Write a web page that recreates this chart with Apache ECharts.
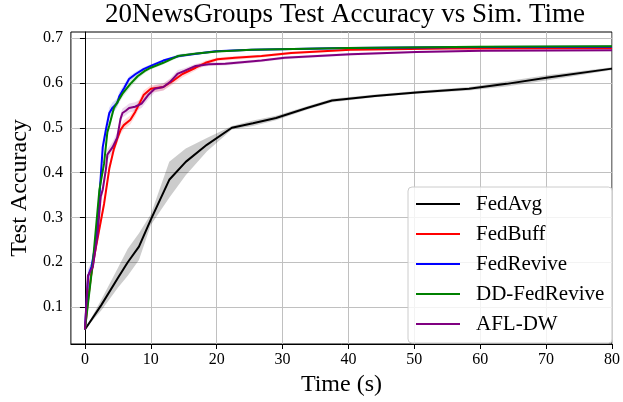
<!DOCTYPE html>
<html>
<head>
<meta charset="utf-8">
<script src="https://cdn.jsdelivr.net/npm/echarts@6/dist/echarts.min.js"></script>
<style>
  html, body { margin: 0; padding: 0; background: #fff; }
  #chart { width: 623px; height: 402px; }
</style>
</head>
<body>
<div id="chart"></div>
<script>
// Tick positions
const xTicks = [0, 10, 20, 30, 40, 50, 60, 70, 80];
const yTicks = [0.1, 0.2, 0.3, 0.4, 0.5, 0.6, 0.7];

// FedAvg: mean accuracy and spread over runs
const fedAvgT = [0, 2.5, 5, 6.5, 8.2, 10, 12.8, 15.3, 18.5, 22.3, 25.5, 29, 33.7, 37.5, 44, 50.3, 58.3, 64, 70.3, 80];
const fedAvgY = [0.05, 0.105, 0.165, 0.2, 0.235, 0.295, 0.384, 0.424, 0.462, 0.5, 0.51, 0.522, 0.544, 0.561, 0.571, 0.579, 0.587, 0.598, 0.612, 0.632];
const fedAvgS = [0, 0.012, 0.022, 0.03, 0.03, 0.012, 0.04, 0.03, 0.015, 0.004, 0.006, 0.005, 0.004, 0.004, 0.003, 0.003, 0.004, 0.006, 0.006, 0.003];

// FedBuff
const fedBuffT = [0, 0.5, 0.95, 1.45, 2.2, 2.9, 3.7, 4.4, 4.9, 5.4, 5.9, 6.9, 7.65, 8.3, 8.9, 10, 11.9, 13.4, 14.8, 16.8, 18.3, 20.1, 22.8, 26.8, 31.3, 40.3, 55.2, 80];
const fedBuffY = [0.05, 0.12, 0.172, 0.216, 0.275, 0.33, 0.409, 0.453, 0.475, 0.495, 0.506, 0.518, 0.536, 0.555, 0.573, 0.587, 0.591, 0.605, 0.62, 0.634, 0.645, 0.653, 0.656, 0.66, 0.667, 0.674, 0.677, 0.678];
const fedBuffS = [0, 0.01, 0.012, 0.012, 0.01, 0.01, 0.01, 0.01, 0.01, 0.01, 0.01, 0.01, 0.01, 0.01, 0.01, 0.008, 0.008, 0.008, 0.008, 0.006, 0.005, 0.004, 0.004, 0.003, 0.003, 0.002, 0.002, 0.002];

// FedRevive
const fedReviveT = [0, 0.5, 1.0, 1.7, 2.2, 2.7, 3.2, 3.7, 4.2, 4.9, 5.2, 6.0, 6.7, 7.7, 8.9, 10, 11.9, 14.3, 17.8, 19.8, 25.3, 40, 60, 80];
const fedReviveY = [0.05, 0.17, 0.19, 0.25, 0.347, 0.457, 0.497, 0.533, 0.545, 0.555, 0.57, 0.59, 0.609, 0.62, 0.631, 0.638, 0.65, 0.66, 0.667, 0.671, 0.674, 0.678, 0.68, 0.681];
const fedReviveS = [0, 0.01, 0.01, 0.01, 0.012, 0.015, 0.015, 0.012, 0.012, 0.01, 0.01, 0.008, 0.006, 0.005, 0.004, 0.004, 0.003, 0.003, 0.002, 0.002, 0.002, 0.002, 0.002, 0.002];

// DD-FedRevive
const ddFedReviveT = [0, 1.2, 2.2, 2.9, 3.4, 3.7, 4.4, 5.7, 6.9, 8.0, 9.1, 10, 11.9, 14.1, 17, 20, 25.3, 40, 60, 80];
const ddFedReviveY = [0.05, 0.2, 0.362, 0.42, 0.49, 0.505, 0.544, 0.576, 0.598, 0.615, 0.627, 0.634, 0.645, 0.66, 0.666, 0.67, 0.674, 0.678, 0.681, 0.682];
const ddFedReviveS = [0, 0.01, 0.01, 0.01, 0.01, 0.01, 0.008, 0.008, 0.008, 0.006, 0.005, 0.004, 0.004, 0.004, 0.003, 0.002, 0.002, 0.002, 0.002, 0.002];

// AFL-DW
const aflDwT = [0, 0.45, 1.2, 1.9, 2.4, 2.7, 3.2, 3.4, 4.2, 4.9, 5.4, 5.7, 6.2, 6.7, 7.6, 8.6, 9.6, 10.6, 11.9, 12.9, 14.1, 15.1, 16.8, 18.8, 21.3, 26.8, 30.3, 40.3, 50.3, 60.3, 80];
const aflDwY = [0.05, 0.17, 0.19, 0.26, 0.347, 0.362, 0.409, 0.44, 0.457, 0.478, 0.52, 0.533, 0.538, 0.544, 0.547, 0.554, 0.573, 0.587, 0.591, 0.602, 0.621, 0.627, 0.638, 0.642, 0.643, 0.65, 0.656, 0.664, 0.669, 0.672, 0.673];
const aflDwS = [0, 0.015, 0.015, 0.012, 0.012, 0.012, 0.012, 0.012, 0.012, 0.012, 0.01, 0.01, 0.01, 0.01, 0.01, 0.01, 0.01, 0.008, 0.008, 0.008, 0.008, 0.006, 0.005, 0.004, 0.004, 0.003, 0.003, 0.003, 0.002, 0.002, 0.002];

const SERIF = 'Liberation Serif';

const methods = [
  { name: 'FedAvg',       t: fedAvgT,       y: fedAvgY,       s: fedAvgS,       color: '#000000', band: 'rgba(0,0,0,0.2)' },
  { name: 'FedBuff',      t: fedBuffT,      y: fedBuffY,      s: fedBuffS,      color: '#ff0000', band: 'rgba(255,0,0,0.15)' },
  { name: 'FedRevive',    t: fedReviveT,    y: fedReviveY,    s: fedReviveS,    color: '#0000ff', band: 'rgba(0,0,255,0.15)' },
  { name: 'DD-FedRevive', t: ddFedReviveT,  y: ddFedReviveY,  s: ddFedReviveS,  color: '#008000', band: 'rgba(0,128,0,0.15)' },
  { name: 'AFL-DW',       t: aflDwT,        y: aflDwY,        s: aflDwS,        color: '#800080', band: 'rgba(128,0,128,0.15)' }
];

// Shaded spread (mean ± s) drawn as one polygon through the axis scales
function bandSeries(m) {
  return {
    type: 'custom',
    name: m.name + ' spread',
    silent: true,
    z: 1,
    clip: true,
    data: m.t.map((x, i) => [x, m.y[i] - m.s[i], m.y[i] + m.s[i]]),
    encode: { x: 0, y: [1, 2] },
    renderItem: function (params, api) {
      if (params.dataIndex !== 0) return null;
      const upper = m.t.map((x, i) => api.coord([x, m.y[i] + m.s[i]]));
      const lower = m.t.map((x, i) => api.coord([x, m.y[i] - m.s[i]])).reverse();
      return {
        type: 'polygon',
        shape: { points: upper.concat(lower) },
        style: { fill: m.band }
      };
    }
  };
}

function lineSeries(m) {
  return {
    type: 'line',
    name: m.name,
    z: 3,
    data: m.t.map((x, i) => [x, m.y[i]]),
    showSymbol: false,
    symbol: 'none',
    lineStyle: { color: m.color, width: 2 },
    itemStyle: { color: m.color },
    animation: false
  };
}

const chart = echarts.init(document.getElementById('chart'), null, { renderer: 'canvas' });

chart.setOption({
  animation: false,
  backgroundColor: '#ffffff',
  textStyle: { fontFamily: SERIF, color: '#000' },
  title: {
    text: '20NewsGroups Test Accuracy vs Sim. Time',
    left: 345,
    textAlign: 'center',
    top: 1,
    padding: 0,
    textStyle: { fontFamily: SERIF, fontSize: 27, fontWeight: 'normal', color: '#000' }
  },
  grid: {
    left: 66, right: 6, top: 32, bottom: 51,
    show: true, borderColor: '#000', borderWidth: 1, backgroundColor: 'transparent'
  },
  legend: {
    data: methods.map(m => m.name),
    orient: 'vertical',
    left: 408,
    top: 187,
    padding: [6, 8, 8, 8],
    itemGap: 8,
    itemWidth: 44,
    itemHeight: 2,
    icon: 'rect',
    backgroundColor: 'rgba(255,255,255,0.8)',
    borderColor: '#cccccc',
    borderWidth: 1,
    borderRadius: 4,
    textStyle: { fontFamily: SERIF, fontSize: 21, color: '#000', lineHeight: 22, padding: [0, 0, 0, 11] }
  },
  xAxis: {
    type: 'value',
    min: -2.13,
    max: 80,
    name: 'Time (s)',
    nameLocation: 'middle',
    nameGap: 29,
    nameTextStyle: { fontFamily: SERIF, fontSize: 24, color: '#000' },
    axisLine: { show: true, lineStyle: { color: '#000', width: 1 } },
    axisTick: { show: true, length: 5, lineStyle: { color: '#000' }, customValues: xTicks },
    axisLabel: { fontFamily: SERIF, fontSize: 16, color: '#000', margin: 8, customValues: xTicks },
    splitLine: { show: true, lineStyle: { color: '#c0c0c0', width: 1 } }
  },
  yAxis: {
    type: 'value',
    min: 0.0177,
    max: 0.7137,
    name: 'Test Accuracy',
    nameLocation: 'middle',
    nameGap: 29,
    nameTextStyle: { fontFamily: SERIF, fontSize: 24, color: '#000' },
    axisLine: { show: true, lineStyle: { color: '#000', width: 1 } },
    axisTick: { show: true, length: 5, lineStyle: { color: '#000' }, customValues: yTicks },
    axisLabel: { fontFamily: SERIF, fontSize: 16, color: '#000', margin: 8, customValues: yTicks },
    splitLine: { show: true, lineStyle: { color: '#c0c0c0', width: 1 } }
  },
  series: methods.map(bandSeries).concat(methods.map(lineSeries))
});
</script>
</body>
</html>
